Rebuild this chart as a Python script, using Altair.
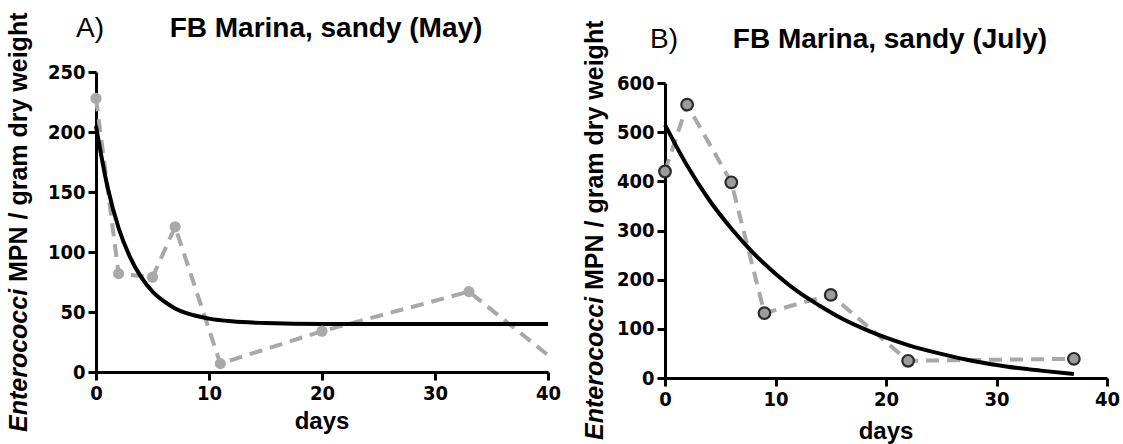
import altair as alt
import pandas as pd

# ---------------- data ----------------
may_days = [0, 2, 5, 7, 11, 20, 33, 40]
may_mpn = [228, 82, 79, 121, 7, 34, 67, 14]
may_marker = [True, True, True, True, True, True, True, False]

may_fit_days = [0, 1, 2, 3, 4, 5, 6, 7, 8, 10, 12, 15, 20, 30, 40]
may_fit_mpn = [205, 155, 120, 96, 79, 67, 59, 53, 49, 44.5, 42.2, 40.8, 40, 40, 40]

july_days = [0, 2, 6, 9, 15, 22, 37]
july_mpn = [420, 556, 398, 132, 169, 35, 39]

july_fit_days = [0, 2, 4, 6, 8, 10, 12, 14, 16, 18, 20, 22, 25, 28, 31, 34, 37]
july_fit_mpn = [515, 432, 362, 304, 254, 212, 176, 147, 121, 100, 82, 67, 49, 34, 23, 15, 8]

may_yticks = [0, 50, 100, 150, 200, 250]
july_yticks = [0, 100, 200, 300, 400, 500, 600]
xticks = [0, 10, 20, 30, 40]

panel_letters = ["A)", "B)"]
panel_titles = ["FB Marina, sandy (May)", "FB Marina, sandy (July)"]
ytitle_italic = "Enterococci"
ytitle_rest = "MPN / gram dry weight"
xtitle = "days"

# ---------------- style ----------------
GRAY = "#a8a8a8"
TICK_FONT = "Liberation Sans Narrow, DejaVu Sans Condensed, Liberation Sans, Arial"
FONT = "Liberation Sans, Arial, Helvetica"
W, H = 1123, 444

may_df = pd.DataFrame({"d": may_days, "v": may_mpn, "m": may_marker})
may_fit = pd.DataFrame({"d": may_fit_days, "v": may_fit_mpn})
jul_df = pd.DataFrame({"d": july_days, "v": july_mpn})
jul_fit = pd.DataFrame({"d": july_fit_days, "v": july_fit_mpn})


def axis(values, offset, orient):
    return alt.Axis(
        values=values, orient=orient, offset=offset, title=None, grid=False,
        domainColor="black", domainWidth=3, tickColor="black", tickWidth=3,
        tickSize=8, labelFont=TICK_FONT, labelFontSize=20, labelFontWeight="bold",
        labelColor="black", labelPadding=3, labelFlush=False, labelOverlap=False,
        labelBound=False,
    )


def panel(pts, fit, xrange, yrange, ydomain, yticks, xoff, yoff, marker_style):
    xs = alt.Scale(domain=[0, 40], range=xrange, nice=False, zero=False)
    ys = alt.Scale(domain=ydomain, range=yrange, nice=False, zero=False)
    xenc = alt.X("d:Q", scale=xs, axis=axis(xticks, xoff, "bottom"))
    yenc = alt.Y("v:Q", scale=ys, axis=axis(yticks, yoff, "left"))
    dashed = alt.Chart(pts).mark_line(
        color=GRAY, strokeWidth=4, strokeDash=[13, 8]
    ).encode(x=xenc, y=yenc)
    fitline = alt.Chart(fit).mark_line(
        color="black", strokeWidth=4, interpolate="monotone"
    ).encode(x=xenc, y=yenc)
    dots = alt.Chart(pts).mark_point(filled=True, opacity=1, **marker_style).encode(
        x=xenc, y=yenc
    )
    if "m" in pts.columns:
        dots = dots.transform_filter("datum.m")
    return alt.layer(dashed, fitline, dots)


left = panel(may_df, may_fit, [96, 548], [372, 72], [0, 250], may_yticks,
             -(H - 372), -96,
             dict(shape="circle", size=125, color="#a9a9a9"))
right = panel(jul_df, jul_fit, [665, 1107], [378, 83], [0, 600], july_yticks,
              -(H - 378), -665,
              dict(shape="circle", size=135, fill="#9c9c9c", stroke="#2a2a2a",
                   strokeWidth=2.2))


def text(s, x, y, size, weight="bold", style="normal", angle=0, align="center",
         baseline="middle"):
    return alt.Chart(pd.DataFrame({"t": [s]})).mark_text(
        font=FONT, fontSize=size, fontWeight=weight, fontStyle=style, angle=angle,
        align=align, baseline=baseline, color="black"
    ).encode(text="t:N", x=alt.value(x), y=alt.value(y))


texts = [
    text(panel_letters[0], 76, 29, 28, weight="normal", align="left"),
    text(panel_titles[0], 326, 29, 28),
    text(panel_letters[1], 650, 40, 28, weight="normal", align="left"),
    text(panel_titles[1], 890, 40, 28),
    text(xtitle, 322, 422, 24),
    text(xtitle, 886, 432, 24),
    # rotated y titles (bottom -> top)
    text(ytitle_italic, 19, 432, 25, style="italic", angle=270, align="left"),
    text(ytitle_rest, 19, 432 - 150, 25, angle=270, align="left"),
    text(ytitle_italic, 595, 440, 25, style="italic", angle=270, align="left"),
    text(ytitle_rest, 595, 440 - 150, 25, angle=270, align="left"),
]

chart = alt.layer(left, right, *texts).resolve_scale(
    x="independent", y="independent"
).properties(
    width=W, height=H, padding=0,
    autosize=alt.AutoSizeParams(type="none"),
    background="white",
).configure_view(stroke=None)

chart.save("out.html", embed_options={"renderer": "svg", "actions": False})
